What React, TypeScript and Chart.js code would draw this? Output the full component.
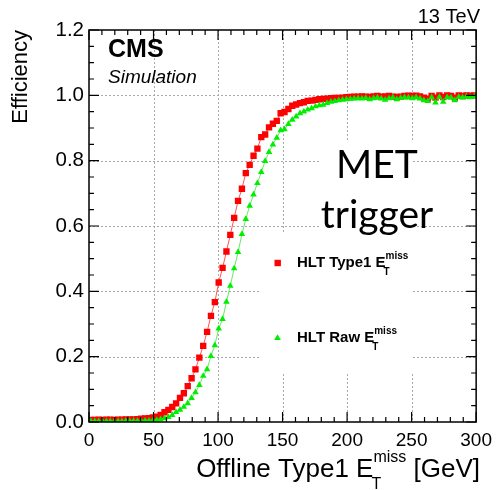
import { useEffect, useRef } from "react";
import { Chart, registerables } from "chart.js";

Chart.register(...registerables);

// Bin centres (GeV) of the offline Type1 MET histogram
const binCenters = [
  1.5, 4.5, 7.5, 10.5, 13.5, 16.5, 19.5, 22.5, 25.5, 28.5,
  31.5, 34.5, 37.5, 40.5, 43.5, 46.5, 49.5, 52.5, 55.5, 58.5,
  61.5, 64.5, 67.5, 70.5, 73.5, 76.5, 79.5, 82.5, 85.5, 88.5,
  91.5, 94.5, 97.5, 100.5, 103.5, 106.5, 109.5, 112.5, 115.5, 118.5,
  121.5, 124.5, 127.5, 130.5, 133.5, 136.5, 139.5, 142.5, 145.5, 148.5,
  151.5, 154.5, 157.5, 160.5, 163.5, 166.5, 169.5, 172.5, 175.5, 178.5,
  181.5, 184.5, 187.5, 190.5, 193.5, 196.5, 199.5, 202.5, 205.5, 208.5,
  211.5, 214.5, 217.5, 220.5, 223.5, 226.5, 229.5, 232.5, 235.5, 238.5,
  241.5, 244.5, 247.5, 250.5, 253.5, 256.5, 259.5, 262.5, 265.5, 268.5,
  271.5, 274.5, 277.5, 280.5, 283.5, 286.5, 289.5, 292.5, 295.5, 298.5,
];

// HLT Type1 MET efficiency
const type1Eff = [
  0.006, 0.006, 0.007, 0.006, 0.007, 0.007, 0.006, 0.007, 0.007, 0.008,
  0.008, 0.008, 0.009, 0.010, 0.011, 0.012, 0.014, 0.016, 0.022, 0.030,
  0.037, 0.046, 0.057, 0.074, 0.088, 0.110, 0.134, 0.161, 0.197, 0.233,
  0.276, 0.325, 0.367, 0.427, 0.472, 0.522, 0.573, 0.625, 0.677, 0.714,
  0.762, 0.787, 0.815, 0.837, 0.872, 0.880, 0.902, 0.913, 0.922, 0.945,
  0.949, 0.958, 0.968, 0.972, 0.976, 0.979, 0.983, 0.984, 0.986, 0.988,
  0.989, 0.990, 0.991, 0.992, 0.992, 0.993, 0.994, 0.995, 0.996, 0.996,
  0.997, 0.996, 0.995, 0.997, 0.998, 0.996, 0.997, 0.998, 0.996, 0.995,
  0.996, 0.998, 0.999, 0.998, 0.999, 0.997, 0.993, 0.990, 0.998, 0.993,
  1.000, 0.995, 1.000, 0.998, 0.993, 1.000, 0.998, 1.000, 0.999, 1.000,
];

// HLT Raw MET efficiency
const rawEff = [
  0.002, 0.002, 0.002, 0.002, 0.002, 0.002, 0.002, 0.002, 0.002, 0.003,
  0.003, 0.003, 0.003, 0.003, 0.004, 0.004, 0.005, 0.006, 0.008, 0.011,
  0.015, 0.021, 0.030, 0.037, 0.046, 0.057, 0.073, 0.091, 0.113, 0.141,
  0.161, 0.202, 0.235, 0.286, 0.315, 0.368, 0.417, 0.470, 0.520, 0.575,
  0.621, 0.662, 0.696, 0.731, 0.765, 0.799, 0.826, 0.849, 0.870, 0.893,
  0.896, 0.912, 0.925, 0.935, 0.945, 0.950, 0.956, 0.960, 0.966, 0.969,
  0.971, 0.976, 0.980, 0.982, 0.985, 0.986, 0.988, 0.989, 0.990, 0.991,
  0.990, 0.992, 0.988, 0.991, 0.993, 0.990, 0.986, 0.991, 0.993, 0.988,
  0.992, 0.994, 0.993, 0.991, 0.994, 0.990, 0.985, 0.982, 0.994, 0.978,
  0.995, 0.980, 0.994, 0.993, 0.985, 0.995, 0.993, 0.996, 0.994, 0.997,
];

const xGridValues = [50, 100, 150, 200, 250];
const yGridValues = [0.2, 0.4, 0.6, 0.8, 1.0];

const FONT = '"Liberation Sans", Arial, Helvetica, sans-serif';
const RED = "#ff0000";
const GREEN = "#00ee00";

export default function App() {
  const ref = useRef<HTMLCanvasElement>(null);

  useEffect(() => {
    const canvas = ref.current!;

    const rootStyle = {
      id: "rootStyle",
      beforeDatasetsDraw(chart: any) {
        const ctx = chart.ctx as CanvasRenderingContext2D;
        const xs = chart.scales.x;
        const ys = chart.scales.y;
        const a = chart.chartArea;
        ctx.save();
        ctx.strokeStyle = "#a8a8a8";
        ctx.lineWidth = 1;
        ctx.setLineDash([2, 2]);
        for (const v of xGridValues) {
          const px = Math.round(xs.getPixelForValue(v)) + 0.5;
          ctx.beginPath();
          ctx.moveTo(px, a.top);
          ctx.lineTo(px, a.bottom);
          ctx.stroke();
        }
        for (const v of yGridValues) {
          const py = Math.round(ys.getPixelForValue(v)) + 0.5;
          ctx.beginPath();
          ctx.moveTo(a.left, py);
          ctx.lineTo(a.right, py);
          ctx.stroke();
        }
        ctx.setLineDash([]);
        // white legend / text boxes hiding the grid
        ctx.fillStyle = "#ffffff";
        ctx.fillRect(259, 232, 154, 140);
        ctx.fillRect(320, 140, 93, 92);
        ctx.restore();
      },
      afterDatasetsDraw(chart: any) {
        const ctx = chart.ctx as CanvasRenderingContext2D;
        const xs = chart.scales.x;
        const ys = chart.scales.y;
        const a = chart.chartArea;
        ctx.save();
        // frame
        ctx.strokeStyle = "#000";
        ctx.lineWidth = 1.5;
        ctx.strokeRect(a.left, a.top, a.right - a.left, a.bottom - a.top);
        // inner ticks
        ctx.lineWidth = 1.2;
        ctx.beginPath();
        for (let i = 0; i <= 30; i++) {
          const px = xs.getPixelForValue(i * 10);
          const len = i % 5 === 0 ? 10 : 5;
          ctx.moveTo(px, a.bottom);
          ctx.lineTo(px, a.bottom - len);
          ctx.moveTo(px, a.top);
          ctx.lineTo(px, a.top + len);
        }
        for (let i = 0; i <= 24; i++) {
          const py = ys.getPixelForValue(i * 0.05);
          const len = i % 4 === 0 ? 10 : 5;
          ctx.moveTo(a.left, py);
          ctx.lineTo(a.left + len, py);
          ctx.moveTo(a.right, py);
          ctx.lineTo(a.right - len, py);
        }
        ctx.stroke();

        ctx.fillStyle = "#000";
        ctx.textBaseline = "alphabetic";

        // 13 TeV
        ctx.font = `20px ${FONT}`;
        ctx.textAlign = "right";
        ctx.fillText("13 TeV", 480, 23);

        // CMS Simulation
        ctx.textAlign = "left";
        ctx.font = `bold 25px ${FONT}`;
        ctx.fillText("CMS", 108, 57);
        ctx.font = `italic 19px ${FONT}`;
        ctx.fillText("Simulation", 108, 83);

        // MET trigger
        ctx.textAlign = "center";
        ctx.font = `39px Lato, "Open Sans", sans-serif`;
        ctx.fillText("MET", 377, 178);
        ctx.fillText("trigger", 377, 228);

        // Y title
        ctx.save();
        ctx.translate(27, a.top);
        ctx.rotate(-Math.PI / 2);
        ctx.textAlign = "right";
        ctx.font = `22px ${FONT}`;
        ctx.fillText("Efficiency", 0, 0);
        ctx.restore();

        // X title
        ctx.textAlign = "left";
        const mainF = `26px ${FONT}`;
        const scrF = `16px ${FONT}`;
        ctx.font = mainF;
        const wMain = ctx.measureText("Offline Type1 E").width;
        const wTail = ctx.measureText(" [GeV]").width;
        ctx.font = scrF;
        const wScr = ctx.measureText("miss").width;
        const x0 = 480 - wTail - wScr - wMain;
        ctx.font = mainF;
        ctx.fillText("Offline Type1 E", x0, 477);
        ctx.fillText(" [GeV]", x0 + wMain + wScr, 477);
        ctx.font = scrF;
        ctx.fillText("miss", x0 + wMain, 462);
        ctx.fillText("T", x0 + wMain - 2, 489);

        // Legend
        const legend = [
          { text: "HLT Type1 E", y: 267, color: RED, shape: "rect" },
          { text: "HLT Raw E", y: 342, color: GREEN, shape: "tri" },
        ];
        for (const l of legend) {
          ctx.fillStyle = l.color;
          const cy = l.y - 4;
          if (l.shape === "rect") {
            ctx.fillRect(274.5, cy - 3.2, 6.4, 6.4);
          } else {
            ctx.beginPath();
            ctx.moveTo(277.5, cy - 3.8);
            ctx.lineTo(280.9, cy + 2);
            ctx.lineTo(274.1, cy + 2);
            ctx.closePath();
            ctx.fill();
          }
          ctx.fillStyle = "#000";
          ctx.font = `bold 15px ${FONT}`;
          ctx.fillText(l.text, 297, l.y);
          const w = ctx.measureText(l.text).width;
          ctx.font = `bold 10px ${FONT}`;
          ctx.fillText("miss", 297 + w, l.y - 8);
          ctx.fillText("T", 297 + w - 2, l.y + 8);
        }
        ctx.restore();
      },
    };

    const chart = new Chart(canvas, {
      type: "scatter",
      data: {
        datasets: [
          {
            label: "HLT Type1",
            data: binCenters.map((x, i) => ({ x, y: type1Eff[i] })),
            showLine: true,
            borderColor: "rgba(255,40,40,0.8)",
            borderWidth: 1,
            backgroundColor: RED,
            pointBackgroundColor: RED,
            pointStyle: "rect",
            pointRadius: 4.5,
            pointBorderWidth: 0,
            order: 1,
          },
          {
            label: "HLT Raw",
            data: binCenters.map((x, i) => ({ x, y: rawEff[i] })),
            showLine: true,
            borderColor: "rgba(60,230,60,0.8)",
            borderWidth: 1,
            backgroundColor: GREEN,
            pointBackgroundColor: GREEN,
            pointStyle: "triangle",
            pointRadius: 3.8,
            pointBorderWidth: 0,
            order: 0,
          },
        ],
      },
      options: {
        responsive: false,
        animation: false,
        devicePixelRatio: 1,
        layout: { padding: { top: 30, right: 20, left: 0, bottom: 0 } },
        plugins: { legend: { display: false }, tooltip: { enabled: false } },
        scales: {
          x: {
            type: "linear",
            min: 0,
            max: 300,
            grid: { display: false, drawTicks: false },
            border: { display: false },
            ticks: {
              stepSize: 50,
              autoSkip: false,
              maxRotation: 0,
              color: "#000",
              padding: 7,
              font: { family: FONT, size: 19 },
            },
            afterFit(s: any) {
              s.height = 68;
            },
          },
          y: {
            type: "linear",
            min: 0,
            max: 1.2,
            grid: { display: false, drawTicks: false },
            border: { display: false },
            ticks: {
              stepSize: 0.2,
              color: "#000",
              padding: 5,
              font: { family: FONT, size: 20.5 },
              callback: (v: any) => Number(v).toFixed(1),
            },
            afterFit(s: any) {
              s.width = 89;
            },
          },
        },
      },
      plugins: [rootStyle],
    } as any);

    return () => chart.destroy();
  }, []);

  return (
    <div style={{ position: "fixed", left: 0, top: 0 }}>
      <canvas ref={ref} width={499} height={490} style={{ display: "block" }} />
    </div>
  );
}
